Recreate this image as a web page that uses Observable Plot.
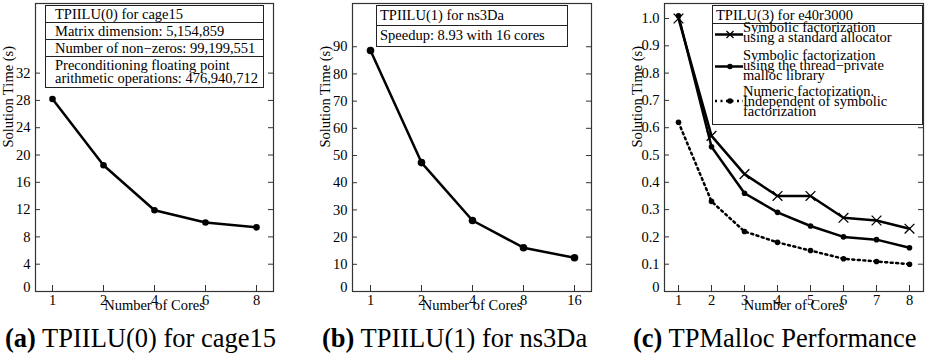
<!DOCTYPE html>
<html><head><meta charset="utf-8">
<script src="https://cdn.jsdelivr.net/npm/d3@7"></script>
<script src="https://cdn.jsdelivr.net/npm/@observablehq/plot@0.6"></script>
<style>
body{margin:0;background:#fff;}
#root{position:relative;width:934px;height:358px;overflow:hidden;color:#000;}
.panel{position:absolute;top:0;height:358px;}
.panel > svg{position:absolute;left:0;top:0;}
</style>
</head><body>
<div id="root"></div>
<script>
// ---- data ----
const coresA = [1, 2, 4, 6, 8];
const timeA = [28.2, 18.5, 11.9, 10.1, 9.4];
const yTicksA = [0, 4, 8, 12, 16, 20, 24, 28, 32];

const coresB = [1, 2, 4, 8, 16];
const timeB = [88.6, 47.4, 26.1, 16.1, 12.4];
const yTicksB = [0, 10, 20, 30, 40, 50, 60, 70, 80, 90];

const coresC = [1, 2, 3, 4, 5, 6, 7, 8];
const stdAlloc = [1.00, 0.57, 0.43, 0.35, 0.35, 0.27, 0.26, 0.23];
const tpMalloc = [1.01, 0.53, 0.36, 0.29, 0.24, 0.20, 0.19, 0.16];
const numericFact = [0.62, 0.33, 0.22, 0.18, 0.15, 0.12, 0.11, 0.10];
const yTicksC = [0, 0.1, 0.2, 0.3, 0.4, 0.5, 0.6, 0.7, 0.8, 0.9, 1.0];

const xLabel = "Number of Cores";
const yLabel = "Solution Time (s)";
const captions = [["(a)", "TPIILU(0) for cage15"], ["(b)", "TPIILU(1) for ns3Da"], ["(c)", "TPMalloc Performance"]];
const legendA = ["TPIILU(0) for cage15", "Matrix dimension: 5,154,859", "Number of non\u2212zeros: 99,199,551", "Preconditioning floating point", "arithmetic operations: 476,940,712"];
const legendB = ["TPIILU(1) for ns3Da", "Speedup: 8.93 with 16 cores"];
const legendCTitle = "TPILU(3) for e40r3000";
const legendC = [["Symbolic factorization", "using a standard allocator"], ["Symbolic factorization", "using the thread\u2212private", "malloc library"], ["Numeric factorization.", "Independent of symbolic", "factorization"]];

const rows = (xs, ys) => xs.map((c, i) => ({cores: c, time: ys[i]}));

const FONT = "'Liberation Serif','Times New Roman',Times,'DejaVu Serif',serif";
const root = document.getElementById("root");
const H = 320;
const FRAME = "#333";

function makePanel(cfg) {
  const {left, W, ml, mr, mt, mb, xDomain, xPad, yDomain, yTicks, yFmt, marks} = cfg;
  const fw = W - ml - mr, fh = H - mt - mb;
  const div = document.createElement("div");
  div.className = "panel";
  div.style.left = left + "px";
  div.style.width = W + "px";
  const svg = Plot.plot({
    width: W, height: H,
    marginLeft: ml, marginRight: mr, marginTop: mt, marginBottom: mb,
    style: {fontFamily: FONT, fontSize: "14.5px", color: "#000", background: "transparent", overflow: "visible"},
    x: {type: "point", domain: xDomain, padding: xPad, label: null},
    y: {domain: yDomain, label: null},
    marks: [
      Plot.tickY(yTicks, {y: d => d, insetRight: fw - 5, stroke: FRAME}),
      Plot.tickY(yTicks, {y: d => d, insetLeft: fw - 5, stroke: FRAME}),
      Plot.tickX(xDomain, {x: d => d, insetTop: fh - 6, stroke: FRAME}),
      Plot.axisY(yTicks.filter(d => d !== 0), {tickSize: 0, tickPadding: 5, tickFormat: yFmt, fill: "#000"}),
      Plot.axisY([0], {tickSize: 0, tickPadding: 5, tickFormat: yFmt, fill: "#000", dy: -4}),
      Plot.axisX(xDomain, {tickSize: 0, tickPadding: 3, fill: "#000"}),
      Plot.text([yLabel], {frameAnchor: "left", dx: -27.5, rotate: -90, fill: "#000"}),
      Plot.text([xLabel], {frameAnchor: "bottom", dy: 18, fill: "#000"}),
      ...marks,
      Plot.frame({stroke: FRAME, strokeWidth: 1.2})
    ]
  });
  div.appendChild(svg);
  root.appendChild(div);
  return div;
}

function addOverlay(div, W, inner, h) {
  const ns = "http://www.w3.org/2000/svg";
  const s = document.createElementNS(ns, "svg");
  s.setAttribute("width", W); s.setAttribute("height", h || H);
  s.setAttribute("style", "position:absolute;left:0;top:0;font-size:14.5px;font-family:" + FONT);
  s.innerHTML = inner;
  div.appendChild(s);
}
function addCaption(div, W, x, cap) {
  addOverlay(div, W, `<text x="${x}" y="347" style="font-size:26.5px"><tspan font-weight="bold">${cap[0]}</tspan> ${cap[1]}</text>`, 358);
}

// ---- panel (a) ----
const dA = rows(coresA, timeA);
const pA = makePanel({left: 0, W: 310, ml: 35, mr: 37, mt: 3, mb: 29,
  xDomain: coresA, xPad: 0.333, yDomain: [0, 42.2], yTicks: yTicksA, yFmt: d => String(d),
  marks: [
    Plot.line(dA, {x: "cores", y: "time", stroke: "#000", strokeWidth: 2.5}),
    Plot.dot(dA, {x: "cores", y: "time", r: 3.3, fill: "#000"})
  ]});
addOverlay(pA, 310, `
  <rect x="45.5" y="5.5" width="218" height="82" fill="#fff" stroke="#222" stroke-width="1"/>
  <line x1="45.5" x2="263.5" y1="22.5" y2="22.5" stroke="#222"/>
  <line x1="45.5" x2="263.5" y1="39.5" y2="39.5" stroke="#222"/>
  <line x1="45.5" x2="263.5" y1="56.5" y2="56.5" stroke="#222"/>
  <text x="55" y="19">${legendA[0]}</text>
  <text x="55" y="36">${legendA[1]}</text>
  <text x="55" y="53">${legendA[2]}</text>
  <text x="55" y="69.5">${legendA[3]}</text>
  <text x="55" y="83">${legendA[4]}</text>`);
addCaption(pA, 310, 5, captions[0]);

// ---- panel (b) ----
const dB = rows(coresB, timeB);
const pB = makePanel({left: 310, W: 310, ml: 42, mr: 29, mt: 3, mb: 29,
  xDomain: coresB, xPad: 0.333, yDomain: [0, 105.9], yTicks: yTicksB, yFmt: d => String(d),
  marks: [
    Plot.line(dB, {x: "cores", y: "time", stroke: "#000", strokeWidth: 2.5}),
    Plot.dot(dB, {x: "cores", y: "time", r: 3.8, fill: "#000"})
  ]});
addOverlay(pB, 310, `
  <rect x="66.5" y="5.5" width="191" height="41" fill="#fff" stroke="#222" stroke-width="1"/>
  <line x1="66.5" x2="257.5" y1="25.5" y2="25.5" stroke="#222"/>
  <text x="70" y="19.5">${legendB[0]}</text>
  <text x="70" y="39.5">${legendB[1]}</text>`);
addCaption(pB, 310, 12, captions[1]);

// ---- panel (c) ----
const dC1 = rows(coresC, stdAlloc), dC2 = rows(coresC, tpMalloc), dC3 = rows(coresC, numericFact);
const pC = makePanel({left: 620, W: 314, ml: 44, mr: 11, mt: 3, mb: 29,
  xDomain: coresC, xPad: 0.31, yDomain: [0, 1.055], yTicks: yTicksC, yFmt: d => d === 0 ? "0" : d.toFixed(1),
  marks: [
    Plot.line(dC1, {x: "cores", y: "time", stroke: "#000", strokeWidth: 2.5}),
    Plot.dot(dC1, {x: "cores", y: "time", symbol: "times", r: 4.5, stroke: "#000", strokeWidth: 1.3}),
    Plot.line(dC2, {x: "cores", y: "time", stroke: "#000", strokeWidth: 2.5}),
    Plot.dot(dC2, {x: "cores", y: "time", r: 2.8, fill: "#000"}),
    Plot.line(dC3, {x: "cores", y: "time", stroke: "#000", strokeWidth: 2.5, strokeDasharray: "2,3.5"}),
    Plot.dot(dC3, {x: "cores", y: "time", r: 2.8, fill: "#000"})
  ]});
addOverlay(pC, 314, `
  <rect x="92.5" y="5.5" width="210" height="119" fill="#fff" stroke="#222" stroke-width="1"/>
  <line x1="92.5" x2="302.5" y1="23.5" y2="23.5" stroke="#222"/>
  <text x="96" y="19.5">${legendCTitle}</text>
  <line x1="95" x2="123" y1="34.5" y2="34.5" stroke="#000" stroke-width="2.5"/>
  <path d="M106.5,31 l7,7 M113.5,31 l-7,7" stroke="#000" stroke-width="1.3"/>
  <text x="123" y="31.5">${legendC[0][0]}</text>
  <text x="123" y="41.5">${legendC[0][1]}</text>
  <line x1="95" x2="123" y1="66.5" y2="66.5" stroke="#000" stroke-width="2.5"/>
  <circle cx="110" cy="66.5" r="2.8" fill="#000"/>
  <text x="123" y="59.5">${legendC[1][0]}</text>
  <text x="123" y="69.5">${legendC[1][1]}</text>
  <text x="123" y="79.5">${legendC[1][2]}</text>
  <line x1="95" x2="123" y1="101" y2="101" stroke="#000" stroke-width="2.5" stroke-dasharray="2,3.5"/>
  <circle cx="110" cy="101" r="2.8" fill="#000"/>
  <text x="123" y="96">${legendC[2][0]}</text>
  <text x="123" y="106">${legendC[2][1]}</text>
  <text x="123" y="116">${legendC[2][2]}</text>`);
addCaption(pC, 314, 13, captions[2]);
</script>
</body></html>
